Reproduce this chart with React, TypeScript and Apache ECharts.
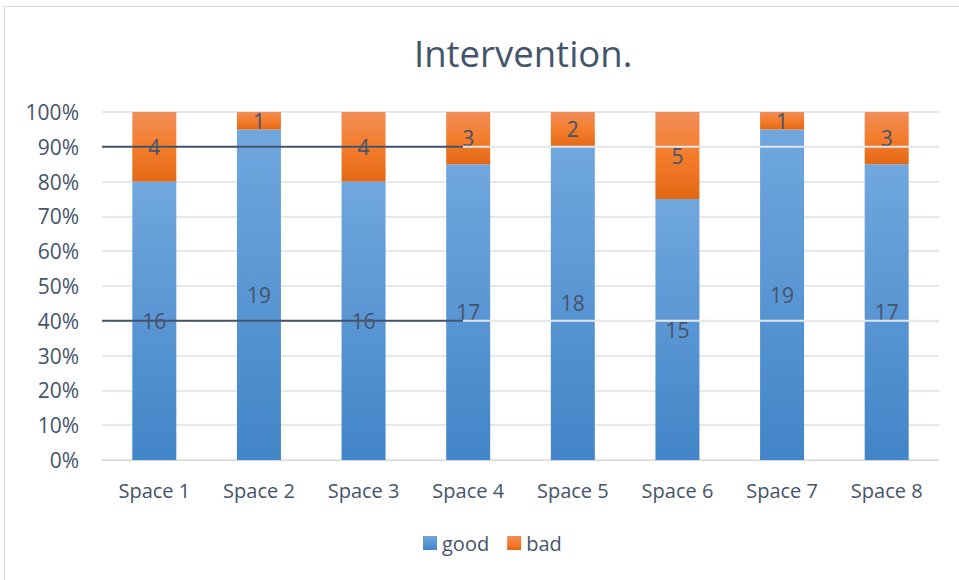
import React, { useEffect, useRef } from "react";
import * as echarts from "echarts";

const categories = ["Space 1", "Space 2", "Space 3", "Space 4", "Space 5", "Space 6", "Space 7", "Space 8"];
const goodValues = [16, 19, 16, 17, 18, 15, 19, 17];
const badValues = [4, 1, 4, 3, 2, 5, 1, 3];
const yTicks = [0, 0.1, 0.2, 0.3, 0.4, 0.5, 0.6, 0.7, 0.8, 0.9, 1];
// hand-drawn reference lines: level, and where the dark part ends (in category units, 0..8)
const annotationLevels = [0.9, 0.4];
const annotationSplit = 3.45;

const FONT = "'Open Sans', 'Noto Sans', sans-serif";
const TEXT = "#44546a";

export default function App() {
  const ref = useRef<HTMLDivElement>(null);
  useEffect(() => {
    if (!ref.current) return;
    const chart = echarts.init(ref.current, null, { renderer: "svg" });
    const totals = goodValues.map((g, i) => g + badValues[i]);
    const goodShare = goodValues.map((g, i) => g / totals[i]);
    const badShare = badValues.map((b, i) => b / totals[i]);

    const blue = new echarts.graphic.LinearGradient(0, 0, 0, 1, [
      { offset: 0, color: "#70a7de" },
      { offset: 1, color: "#4285c8" },
    ]);
    const orange = new echarts.graphic.LinearGradient(0, 0, 0, 1, [
      { offset: 0, color: "#f08d57" },
      { offset: 0.5, color: "#f47d2c" },
      { offset: 1, color: "#e36814" },
    ]);

    const label = (arr: number[]) => ({
      show: true,
      position: "inside",
      color: TEXT,
      fontSize: 21,
      fontFamily: FONT,
      formatter: (p: any) => String(arr[p.dataIndex]),
    });

    const lineSeries: any[] = [];
    annotationLevels.forEach((lv) => {
      lineSeries.push({
        type: "line",
        xAxisIndex: 1,
        z: 6,
        silent: true,
        symbol: "none",
        lineStyle: { color: "#e4e7eb", width: 2 },
        data: [[annotationSplit, lv], [categories.length, lv]],
      });
      lineSeries.push({
        type: "line",
        xAxisIndex: 1,
        z: 7,
        silent: true,
        symbol: "none",
        lineStyle: { color: "#44546a", width: 2 },
        data: [[0, lv], [annotationSplit, lv]],
      });
    });

    chart.setOption({
      animation: false,
      backgroundColor: "#ffffff",
      title: {
        text: "Intervention.",
        left: 409,
        top: 29,
        textStyle: { color: TEXT, fontSize: 36.5, fontWeight: "normal", fontFamily: FONT },
      },
      graphic: [
        {
          type: "rect",
          shape: { x: 4.5, y: 6.5, width: 1000, height: 1000 },
          style: { fill: "none", stroke: "#d9d9d9", lineWidth: 1 },
          silent: true,
        },
      ],
      legend: {
        data: ["good", "bad"],
        left: 418,
        top: 528,
        icon: "rect",
        itemWidth: 14,
        itemHeight: 14,
        itemGap: 18,
        textStyle: { color: TEXT, fontSize: 20, fontFamily: FONT },
      },
      grid: { left: 102, right: 20, top: 112, bottom: 120, containLabel: false },
      xAxis: [
        {
          type: "category",
          data: categories,
          axisLine: { show: true, lineStyle: { color: "#d9d9d9" } },
          axisTick: { show: false },
          axisLabel: { color: TEXT, fontSize: 20, fontFamily: FONT, margin: 20 },
        },
        {
          type: "value",
          min: 0,
          max: categories.length,
          show: false,
        },
      ],
      yAxis: {
        type: "value",
        min: 0,
        max: 1,
        interval: 0.1,
        axisLine: { show: false },
        axisTick: { show: false },
        splitLine: { lineStyle: { color: "#dde1e6", width: 1.5 } },
        axisLabel: {
          color: TEXT,
          fontSize: 21,
          fontFamily: FONT,
          margin: 23,
          formatter: (v: number) => {
            const t = yTicks.find((x) => Math.abs(x - v) < 1e-6);
            return Math.round((t ?? v) * 100) + "%";
          },
        },
      },
      series: [
        {
          name: "good",
          type: "bar",
          stack: "total",
          barWidth: 44,
          data: goodShare,
          itemStyle: { color: blue },
          label: label(goodValues),
        },
        {
          name: "bad",
          type: "bar",
          stack: "total",
          barWidth: 44,
          data: badShare,
          itemStyle: { color: orange },
          label: label(badValues),
        },
        ...lineSeries,
      ],
    });
    return () => chart.dispose();
  }, []);
  return (
    <div
      ref={ref}
      style={{ position: "fixed", left: 0, top: 0, width: 959, height: 580 }}
    />
  );
}
